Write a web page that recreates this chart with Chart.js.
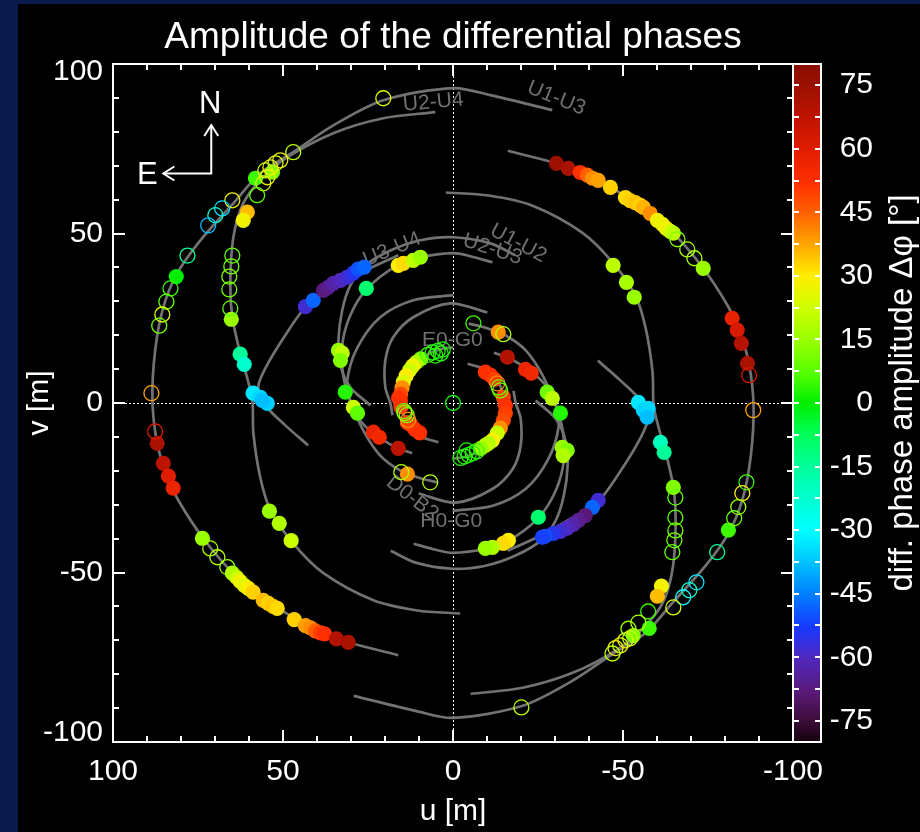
<!DOCTYPE html>
<html>
<head>
<meta charset="utf-8">
<title>Amplitude of the differential phases</title>
<script src="https://cdn.jsdelivr.net/npm/chart.js@4.4.1/dist/chart.umd.min.js"></script>
<style>
  html, body { margin: 0; padding: 0; background: #0b1a4c; }
  #page { position: relative; width: 920px; height: 832px; overflow: hidden; }
  #panel { position: absolute; left: 18px; top: 4px; width: 902px; height: 828px; background: #000; }
  #uv { position: absolute; left: 0; top: 0; }
  #cbar { position: absolute; left: 760px; top: 0; }
</style>
</head>
<body>
<div id="page">
  <div id="panel"></div>
  <canvas id="uv" width="920" height="832"></canvas>
  <canvas id="cbar" width="160" height="832"></canvas>
</div>
<script>
const FONT = "'Liberation Sans', Arial, Helvetica, sans-serif";

// ---- axes ----
const uTicks = [-100, -50, 0, 50, 100];
const vTicks = [-100, -50, 0, 50, 100];

// ---- colour scale for the differential phase amplitude (degrees) ----
const cbarMin = -80, cbarMax = 80;
const cbarTicks = [-75, -60, -45, -30, -15, 0, 15, 30, 45, 60, 75];
const cmapStops  = [-80, -75, -68, -60, -53, -45, -37, -30, -22, -15, -7, 0, 7, 15, 22, 30, 37, 45, 52, 60, 67, 75, 80];
const cmapColors = ['#14000c', '#3c0c38', '#5a1a7a', '#5028c0', '#1838ff', '#0080ff', '#00c8ff', '#00ffff', '#00ffcc',
                    '#00ff99', '#00ff55', '#00ee00', '#55ff00', '#99ff00', '#ccff00', '#ffee00', '#ffaa00', '#ff6000',
                    '#ff3000', '#e01c00', '#c01400', '#9c1000', '#8a0e00'];

// ---- uv tracks [u, v] in metres ----
const trackU1U3a = [[16.1,-74.4],[30.8,-70.6],[39.9,-67.1],[51.7,-60.3],[64.6,-50.2],[73.7,-39.6],[80.8,-28.7],[84.0,-22.0],[87.0,-11.9],[88.4,0.8],[87.6,15.5],[85.2,28.2],[81.1,38.3],[74.3,48.0],[64.6,58.9],[56.7,67.8],[47.0,74.0],[35.2,81.9],[20.5,89.3],[-0.1,92.9],[-11.0,90.8],[-29.2,86.4]];
const trackU1U3b = [[-16.1,74.4],[-30.8,70.6],[-39.9,67.1],[-51.7,60.3],[-64.6,50.2],[-73.7,39.6],[-80.8,28.7],[-84.0,22.0],[-87.0,11.9],[-88.4,-0.8],[-87.6,-15.5],[-85.2,-28.2],[-81.1,-38.3],[-74.3,-48.0],[-64.6,-58.9],[-56.7,-67.8],[-47.0,-74.0],[-35.2,-81.9],[-20.5,-89.3],[0.1,-92.9],[11.0,-90.8],[29.2,-86.4]];
const trackU2U4a = [[5.2,85.8],[20.5,84.0],[35.2,79.6],[48.7,72.5],[56.1,66.3],[61.7,58.9],[64.6,48.9],[65.5,35.3],[64.9,25.3],[62.6,14.7],[60.5,7.3],[59.0,0.8],[58.7,-9.0],[56.7,-21.9],[53.7,-31.6],[47.0,-41.4],[38.1,-50.2],[23.4,-58.2],[10.5,-61.2],[-2.1,-62.1]];
const trackU2U4b = [[-5.2,-85.8],[-20.5,-84.0],[-35.2,-79.6],[-48.7,-72.5],[-56.1,-66.3],[-61.7,-58.9],[-64.6,-48.9],[-65.5,-35.3],[-64.9,-25.3],[-62.6,-14.7],[-60.5,-7.3],[-59.0,-0.8],[-58.7,9.0],[-56.7,21.9],[-53.7,31.6],[-47.0,41.4],[-38.1,50.2],[-23.4,58.2],[-10.5,61.2],[2.1,62.1]];
const trackU3U4a = [[42.6,-12.5],[49.3,-6.6],[55.2,-0.7],[57.3,4.6],[55.2,10.2],[49.9,19.1],[42.9,28.8],[34.6,34.1],[25.8,39.1],[16.1,43.6]];
const trackU3U4b = [[-42.6,12.5],[-49.3,6.6],[-55.2,0.7],[-57.3,-4.6],[-55.2,-10.2],[-49.9,-19.1],[-42.9,-28.8],[-34.6,-34.1],[-25.8,-39.1],[-16.1,-43.6]];
const trackU1U2a = [[-18.3,43.6],[-11.0,47.1],[-0.1,48.9],[9.6,48.0],[18.4,45.0],[25.8,40.6],[30.2,34.7],[32.6,27.3],[33.7,18.5],[33.1,11.1],[30.2,4.6],[24.3,-0.7]];
const trackU1U2b = [[18.3,-43.6],[11.0,-47.1],[0.1,-48.9],[-9.6,-48.0],[-18.4,-45.0],[-25.8,-40.6],[-30.2,-34.7],[-32.6,-27.3],[-33.7,-18.5],[-33.1,-11.1],[-30.2,-4.6],[-24.3,0.7]];
const trackU2U3a = [[-11.6,41.5],[-5.1,43.3],[-0.1,44.2],[9.6,43.0],[16.4,40.6],[25.2,33.8],[30.2,25.9],[32.6,17.0],[32.3,8.2],[30.2,0.8],[26.4,-8.1],[21.4,-15.5],[15.5,-19.9],[9.6,-22.2],[4.6,-23.4]];
const trackU2U3b = [[11.6,-41.5],[5.1,-43.3],[0.1,-44.2],[-9.6,-43.0],[-16.4,-40.6],[-25.2,-33.8],[-30.2,-25.9],[-32.6,-17.0],[-32.3,-8.2],[-30.2,-0.8],[-26.4,8.1],[-21.4,15.5],[-15.5,19.9],[-9.6,22.2],[-4.6,23.4]];
const trackH0G0a = [[-0.1,31.8],[11.7,30.3],[21.4,25.3],[28.1,16.4],[31.1,6.7],[30.2,-0.1],[28.1,-4.2],[23.7,-8.8],[19.9,-11.3],[16.1,-13.4],[12.0,-14.8]];
const trackH0G0b = [[0.1,-31.8],[-11.7,-30.3],[-21.4,-25.3],[-28.1,-16.4],[-31.1,-6.7],[-30.2,0.1],[-28.1,4.2],[-23.7,8.8],[-19.9,11.3],[-16.1,13.4],[-12.0,14.8]];
const trackD0B2a = [[-10.1,26.7],[0.8,29.4],[11.7,25.3],[17.6,19.4],[19.9,12.6],[19.9,4.6],[18.4,-0.1],[17.8,-3.6]];
const trackD0B2b = [[10.1,-26.7],[-0.8,-29.4],[-11.7,-25.3],[-17.6,-19.4],[-19.9,-12.6],[-19.9,-4.6],[-18.4,0.1],[-17.8,3.6]];
const trackE0G0a = [[-0.1,16.4],[4.0,15.8],[8.0,14.0],[11.5,11.3],[14.0,7.4],[15.2,2.5],[14.8,-2.4],[13.0,-6.8],[10.0,-9.7],[4.3,-11.6]];
const trackE0G0b = [[0.1,-16.4],[-4.0,-15.8],[-8.0,-14.0],[-11.5,-11.3],[-14.0,-7.4],[-15.2,-2.5],[-14.8,2.4],[-13.0,6.8],[-10.0,9.7],[-4.3,11.6]];

// ---- measurements [u, v, dphi] ----
const filledMarks = [
  // north-east
  [53.1,68.1,12],[58.1,66.3,5],[60.5,56.3,35],[61.7,53.9,28],[81.4,37.3,0],[65.2,24.7,15],[62.6,14.4,-15],[61.4,11.4,-22],
  [58.8,2.9,-33],[56.7,1.7,-35],[54.6,-0.1,-36],[56.1,0.8,-38],
  [43.4,28.4,-58],[41.1,30.3,-48],[38.1,33.2,-68],[36.7,34.1,-66],[35.2,35.3,-63],[33.1,36.2,-60],[31.1,37.1,-58],[29.3,38.3,-55],[27.9,39.5,-50],[26.1,40.1,-48],
  [25.5,33.8,-10],[16.1,40.6,30],[14.6,41.2,32],[11.7,42.1,20],[9.6,43.0,15],
  [33.7,15.5,15],[32.6,14.7,20],[33.1,12.6,12],[31.7,3.2,3],
  // north-west
  [-30.4,70.7,75],[-33.9,69.2,72],[-37.4,68.0,52],[-39.5,67.2,45],[-41.0,66.3,40],[-42.7,65.7,38],[-46.3,63.6,33],
  [-50.7,60.6,32],[-52.1,59.7,33],[-53.6,59.1,34],[-55.1,58.3,33],[-56.0,57.7,36],[-58.0,55.9,40],
  [-60.1,53.9,28],[-61.6,52.7,27],[-62.7,51.5,28],[-63.9,50.6,24],[-64.8,50.1,20],
  [-73.6,39.7,15],[-47.1,40.6,20],[-51.0,35.6,17],[-53.3,31.2,15],
  [-82.1,25.0,58],[-83.6,21.5,62],[-84.8,17.6,70],[-86.6,11.7,72],
  [-54.5,0.2,-33],[-56.0,-2.2,-36],[-57.4,-1.6,-35],[-57.1,-4.2,-38],
  [-61.0,-11.6,-20],[-62.1,-14.6,-15],
  [-13.3,20.9,40],[-16.0,13.5,70],[-21.3,9.9,57],[-23.0,8.8,55],[-27.7,3.2,10],[-29.2,1.4,20],
  // south-east
  [87.0,-11.9,72],[85.2,-17.8,68],[83.7,-21.6,60],[82.3,-25.1,57],
  [73.7,-39.9,15],
  [64.9,-50.2,18],[63.7,-51.4,22],[62.6,-52.6,28],[61.4,-53.8,25],[60.2,-54.7,30],[58.8,-55.8,33],
  [55.8,-58.2,35],[54.3,-59.1,33],[52.9,-60.0,34],[51.7,-60.6,32],[46.7,-63.9,33],
  [43.4,-65.7,38],[41.9,-66.3,40],[40.5,-67.2,45],[39.0,-67.8,50],[37.8,-68.1,52],[34.3,-69.6,70],[30.8,-70.6,72],
  [54.0,-31.9,15],[51.1,-35.5,18],[47.6,-40.6,22],
  [13.4,-21.0,40],[23.4,-8.6,57],[21.7,-10.1,55],[16.1,-13.4,68],[29.3,-1.3,22],[28.1,-3.0,8],
  // south-west
  [-64.8,-24.9,12],[-61.3,-54.0,28],[-60.1,-57.0,35],[-57.7,-66.5,5],[-53.0,-68.6,12],[-81.0,-37.5,5],
  [-42.7,-28.7,-58],[-41.0,-30.8,-48],[-38.9,-33.2,-68],[-36.9,-34.6,-66],[-35.4,-35.8,-63],[-33.6,-36.9,-60],[-31.6,-37.9,-58],[-29.5,-38.5,-55],[-27.1,-39.3,-50],[-26.3,-39.6,-52],
  [-25.1,-33.7,-10],[-16.3,-40.5,30],[-14.8,-41.4,32],[-11.6,-42.6,18],[-9.5,-42.9,15],
  [-32.1,-13.1,15],[-33.6,-14.0,12],[-32.4,-15.5,18],[-31.6,-3.0,3],
  // E0-G0, east half
  [9.5,13.0,12],[10.8,12.0,18],[11.9,10.9,28],[12.8,9.6,22],[13.8,8.0,30],[14.6,6.2,25],[15.0,4.5,40],[15.4,2.6,48],[15.5,0.7,52],[15.3,-1.1,50],[16.0,1.5,52],
  [12.4,-6.4,50],[11.2,-7.8,52],[9.8,-8.8,52],[13.4,-5.8,50],
  // E0-G0, west half
  [-9.5,9.1,52],[-11.0,8.2,52],[-12.2,7.0,50],
  [-14.8,1.7,50],[-15.4,-0.7,52],[-15.4,-3.0,50],[-14.8,-5.1,48],[-13.9,-7.4,40],[-13.0,-8.9,22],[-11.6,-11.0,30],[-10.4,-11.9,18],[-9.5,-12.5,20],[-8.2,-13.4,15]
];

const openMarks = [
  // north-east
  [20.5,89.9,25],[47.0,74.0,20],[50.8,71.6,27],[52.2,70.7,25],[53.7,69.5,27],[55.2,68.6,22],[54.6,66.6,27],[55.8,64.8,25],[57.6,61.3,8],[64.9,59.8,28],
  [67.9,57.4,-35],[69.9,55.4,-22],[72.0,52.4,-38],[78.1,43.5,-15],[83.1,33.8,5],[84.3,29.9,8],[85.5,26.1,25],[86.4,22.8,10],
  [64.9,43.5,8],[65.2,40.3,10],[65.8,37.3,12],[65.8,33.5,10],[65.5,27.9,8],[88.7,2.9,38],
  // north-west
  [-66.0,48.3,12],[-68.9,45.3,18],[-71.0,42.7,18],[-87.1,8.2,62],[-88.3,-2.1,38],[-6.0,23.5,5],[-14.8,20.3,18],
  // south-east
  [87.6,-8.4,62],[71.4,-42.9,18],[69.3,-45.5,20],[66.4,-48.4,15],[15.2,-20.4,18],[6.7,-23.4,18],
  // south-west
  [-65.4,-27.9,8],[-65.4,-33.8,8],[-65.4,-37.6,10],[-65.1,-40.5,10],[-64.5,-44.0,8],
  [-57.4,-61.5,5],[-49.2,-71.5,25],[-50.7,-70.0,28],[-52.1,-69.4,22],[-47.8,-72.3,28],[-51.6,-66.6,15],[-54.5,-64.8,18],[-46.9,-73.9,20],[-20.1,-89.8,20],
  [-86.3,-23.4,5],[-85.1,-26.6,30],[-83.9,-30.7,15],[-82.7,-34.0,10],[-77.7,-44.0,-15],[-71.6,-52.9,-33],[-69.5,-55.2,-22],[-67.7,-57.3,-30],[-64.8,-60.3,25],
  // E0-G0
  [3.0,15.8,2],[4.5,15.4,3],[6.0,14.9,2],[7.4,14.2,5],[5.2,14.0,4],[3.6,14.6,3],
  [14.4,-2.4,8],[13.6,-3.6,12],[13.2,-5.0,40],[14.2,-3.0,15],
  [-13.0,5.8,40],[-13.9,3.7,10],[-13.5,4.6,8],
  [-7.0,-14.2,5],[-5.8,-14.8,3],[-4.6,-15.3,2],[-3.4,-15.8,4],[-2.2,-16.2,3],[-4.0,-14.0,2],
  // zero spacing
  [0,0,0]
];

// ---- baseline names and where they sit [u, v, angle in degrees] ----
const baselineNames = ['U2-U4', 'U1-U3', 'U3-U4', 'U1-U2', 'U2-U3', 'E0-G0', 'D0-B2', 'H0-G0'];
const baselineSpots = [[5.8,88.7,-5],[-30.4,89.9,22],[17.9,45.3,-22],[-19.2,47.1,28],[-11.6,45.3,18],[0.2,18.5,0],[12.0,-28.1,38],[0.5,-34.9,0]];

// ---- compass [u, v] ----
const compassOrigin = [71.1, 67.7];
const compassNorthTip = [71.1, 82.0];
const compassEastTip = [85.2, 67.7];
const compassNLabel = [71.4, 88.1];
const compassELabel = [89.9, 67.1];

// ---- helpers ----
function hexToRgb(h) { const n = parseInt(h.slice(1), 16); return [(n >> 16) & 255, (n >> 8) & 255, n & 255]; }
function phaseColor(p) {
  if (p <= cmapStops[0]) return cmapColors[0];
  for (let i = 1; i < cmapStops.length; i++) {
    if (p <= cmapStops[i]) {
      const t = (p - cmapStops[i - 1]) / (cmapStops[i] - cmapStops[i - 1]);
      const a = hexToRgb(cmapColors[i - 1]), b = hexToRgb(cmapColors[i]);
      const c = a.map((va, k) => Math.round(va + (b[k] - va) * t));
      return `rgb(${c[0]},${c[1]},${c[2]})`;
    }
  }
  return cmapColors[cmapColors.length - 1];
}
const markColor = c => (c.raw && c.raw.p !== undefined) ? phaseColor(c.raw.p) : '#000';

// ---- main uv-plane chart ----
const tracks = [trackU1U3a, trackU1U3b, trackU2U4a, trackU2U4b, trackU3U4a, trackU3U4b, trackU1U2a, trackU1U2b,
                trackU2U3a, trackU2U3b, trackH0G0a, trackH0G0b, trackD0B2a, trackD0B2b, trackE0G0a, trackE0G0b];

const datasets = tracks.map(t => ({
  data: t.map(([u, v]) => ({ x: u, y: v })),
  showLine: true, fill: false, borderColor: '#727272', borderWidth: 2.7, tension: 0.3,
  pointRadius: 0, pointHoverRadius: 0, order: 2
}));
datasets.push({
  data: filledMarks.map(([u, v, p]) => ({ x: u, y: v, p })),
  showLine: false, pointRadius: 7.6, pointHoverRadius: 7.6, pointBorderWidth: 0,
  pointBackgroundColor: markColor, pointBorderColor: markColor, order: 1
});
datasets.push({
  data: openMarks.map(([u, v, p]) => ({ x: u, y: v, p })),
  showLine: false, pointRadius: 7.5, pointHoverRadius: 7.5, pointBorderWidth: 1.3,
  pointBackgroundColor: 'rgba(0,0,0,0)', pointBorderColor: markColor, order: 0
});

const uvDecor = {
  id: 'uvDecor',
  beforeDatasetsDraw(chart) {
    const { ctx, chartArea: a, scales: { x, y } } = chart;
    ctx.save();
    ctx.strokeStyle = '#ffffff';
    ctx.lineWidth = 1;
    ctx.setLineDash([2, 2]);
    const x0 = Math.round(x.getPixelForValue(0)) + 0.5;
    const y0 = Math.round(y.getPixelForValue(0)) + 0.5;
    ctx.beginPath();
    ctx.moveTo(x0, a.top); ctx.lineTo(x0, a.bottom);
    ctx.moveTo(a.left, y0); ctx.lineTo(a.right, y0);
    ctx.stroke();
    ctx.setLineDash([]);
    ctx.fillStyle = '#707070';
    ctx.font = `21px ${FONT}`;
    ctx.textAlign = 'center';
    ctx.textBaseline = 'middle';
    baselineNames.forEach((name, i) => {
      const [u, v, ang] = baselineSpots[i];
      ctx.save();
      ctx.translate(x.getPixelForValue(u), y.getPixelForValue(v));
      ctx.rotate(ang * Math.PI / 180);
      ctx.fillText(name, 0, 0);
      ctx.restore();
    });
    ctx.restore();
  },
  afterDraw(chart) {
    const { ctx, chartArea: a, scales: { x, y } } = chart;
    ctx.save();
    ctx.strokeStyle = '#ffffff';
    ctx.lineWidth = 2;
    ctx.lineCap = 'butt';
    // inward tick marks on all four sides
    ctx.beginPath();
    for (let t = -90; t <= 90; t += 10) {
      const len = (t % 50 === 0) ? 12 : 6;
      const px = Math.round(x.getPixelForValue(t));
      ctx.moveTo(px, a.bottom); ctx.lineTo(px, a.bottom - len);
      ctx.moveTo(px, a.top); ctx.lineTo(px, a.top + len);
      const py = Math.round(y.getPixelForValue(t));
      ctx.moveTo(a.left, py); ctx.lineTo(a.left + len, py);
      ctx.moveTo(a.right, py); ctx.lineTo(a.right - len, py);
    }
    ctx.stroke();
    ctx.strokeRect(a.left, a.top, a.right - a.left, a.bottom - a.top);

    // v tick labels, the outermost ones nudged inside the frame
    ctx.fillStyle = '#ffffff';
    ctx.font = `30px ${FONT}`;
    ctx.textAlign = 'right';
    ctx.textBaseline = 'middle';
    vTicks.forEach(v => {
      const nudge = v === vTicks[vTicks.length - 1] ? 8 : (v === vTicks[0] ? -9 : 0);
      ctx.fillText(String(v), a.left - 10, y.getPixelForValue(v) + nudge);
    });

    // compass
    const ox = x.getPixelForValue(compassOrigin[0]), oy = y.getPixelForValue(compassOrigin[1]);
    const nx = x.getPixelForValue(compassNorthTip[0]), ny = y.getPixelForValue(compassNorthTip[1]);
    const ex = x.getPixelForValue(compassEastTip[0]), ey = y.getPixelForValue(compassEastTip[1]);
    ctx.lineJoin = 'miter';
    ctx.beginPath();
    ctx.moveTo(nx, ny); ctx.lineTo(ox, oy); ctx.lineTo(ex, ey);
    ctx.stroke();
    ctx.beginPath();
    ctx.moveTo(nx - 7, ny + 11); ctx.lineTo(nx, ny); ctx.lineTo(nx + 7, ny + 11);
    ctx.moveTo(ex + 11, ey - 7); ctx.lineTo(ex, ey); ctx.lineTo(ex + 11, ey + 7);
    ctx.stroke();
    ctx.font = `31px ${FONT}`;
    ctx.textAlign = 'center';
    ctx.fillText('N', x.getPixelForValue(compassNLabel[0]), y.getPixelForValue(compassNLabel[1]));
    ctx.fillText('E', x.getPixelForValue(compassELabel[0]), y.getPixelForValue(compassELabel[1]));

    // title
    ctx.font = `37px ${FONT}`;
    ctx.fillText('Amplitude of the differential phases', (a.left + a.right) / 2, 38);
    ctx.restore();
  }
};

new Chart(document.getElementById('uv'), {
  type: 'scatter',
  data: { datasets },
  options: {
    responsive: false,
    animation: false,
    devicePixelRatio: 1,
    events: [],
    layout: { padding: { top: 64, right: 127, left: 0, bottom: 0 } },
    plugins: { legend: { display: false }, tooltip: { enabled: false }, title: { display: false } },
    scales: {
      x: {
        type: 'linear', min: -100, max: 100, reverse: true,
        afterBuildTicks: s => { s.ticks = uTicks.map(v => ({ value: v })); },
        ticks: { color: '#ffffff', font: { family: FONT, size: 30 }, padding: 12, maxRotation: 0, autoSkip: false },
        grid: { display: false, drawTicks: false },
        border: { display: false },
        title: { display: true, text: 'u [m]', color: '#ffffff', font: { family: FONT, size: 30 }, padding: { top: 0, bottom: 2 } },
        afterFit: s => { s.height = 90; }
      },
      y: {
        type: 'linear', min: -100, max: 100,
        afterBuildTicks: s => { s.ticks = vTicks.map(v => ({ value: v })); },
        ticks: { display: false },
        grid: { display: false, drawTicks: false },
        border: { display: false },
        title: { display: true, text: 'v [m]', color: '#ffffff', font: { family: FONT, size: 30 }, padding: { top: 22, bottom: 0 } },
        afterFit: s => { s.width = 113; }
      }
    }
  },
  plugins: [uvDecor]
});

// ---- colour bar ----
const cbarDecor = {
  id: 'cbarDecor',
  afterDraw(chart) {
    const { ctx, chartArea: a, scales: { y } } = chart;
    ctx.save();
    ctx.strokeStyle = '#ffffff';
    ctx.lineWidth = 2;
    ctx.beginPath();
    for (let t = -75; t <= 75; t += 7.5) {
      const py = Math.round(y.getPixelForValue(t));
      ctx.moveTo(a.left, py); ctx.lineTo(a.left + 6, py);
      ctx.moveTo(a.right, py); ctx.lineTo(a.right - 6, py);
    }
    ctx.stroke();
    ctx.strokeRect(a.left, a.top, a.right - a.left, a.bottom - a.top);
    ctx.fillStyle = '#ffffff';
    ctx.font = `33px ${FONT}`;
    ctx.textAlign = 'center';
    ctx.textBaseline = 'middle';
    ctx.translate(143, (a.top + a.bottom) / 2 - 10);
    ctx.rotate(-Math.PI / 2);
    ctx.fillText('diff. phase amplitude \u0394\u03c6 [\u00b0]', 0, 0);
    ctx.restore();
  }
};

new Chart(document.getElementById('cbar'), {
  type: 'bar',
  data: {
    labels: [''],
    datasets: [{
      data: [[cbarMin, cbarMax]],
      borderWidth: 0,
      barPercentage: 1,
      categoryPercentage: 1,
      backgroundColor: c => {
        const chart = c.chart;
        if (!chart.chartArea) return '#000';
        const ys = chart.scales.y;
        const g = chart.ctx.createLinearGradient(0, ys.getPixelForValue(cbarMin), 0, ys.getPixelForValue(cbarMax));
        cmapStops.forEach((s, i) => g.addColorStop((s - cbarMin) / (cbarMax - cbarMin), cmapColors[i]));
        return g;
      }
    }]
  },
  options: {
    responsive: false,
    animation: false,
    devicePixelRatio: 1,
    events: [],
    layout: { padding: { top: 64, bottom: 90, left: 33, right: 47 } },
    plugins: { legend: { display: false }, tooltip: { enabled: false } },
    scales: {
      x: { display: false },
      y: {
        position: 'right', min: cbarMin, max: cbarMax,
        afterBuildTicks: s => { s.ticks = cbarTicks.map(v => ({ value: v })); },
        ticks: { color: '#ffffff', font: { family: FONT, size: 30 }, padding: 8, crossAlign: 'far', autoSkip: false },
        grid: { display: false, drawTicks: false },
        border: { display: false },
        afterFit: s => { s.width = 52; }
      }
    }
  },
  plugins: [cbarDecor]
});
</script>
</body>
</html>
